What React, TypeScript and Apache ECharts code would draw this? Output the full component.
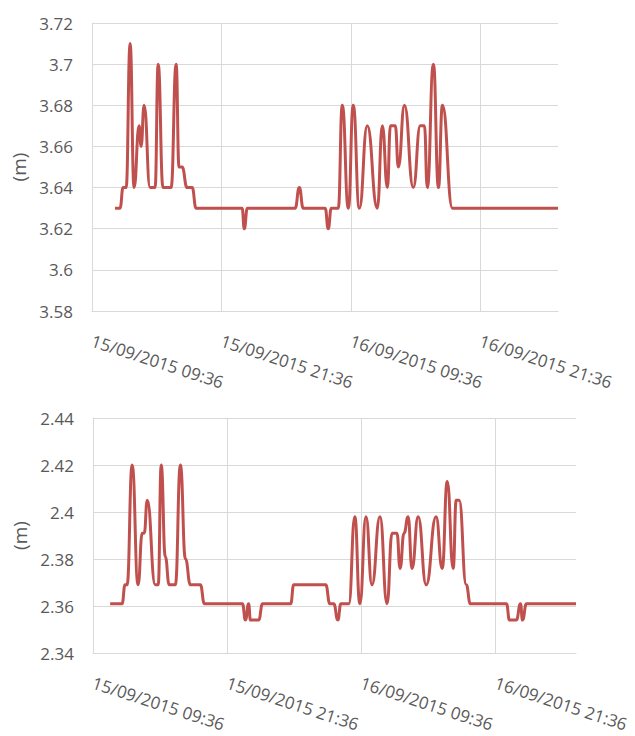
import React, { useEffect, useRef } from "react";
import * as echarts from "echarts";

// x axis: hours since 15/09/2015 09:36
const xTickLabels = ["15/09/2015 09:36", "15/09/2015 21:36", "16/09/2015 09:36", "16/09/2015 21:36"];
const X_MAX_HOURS = 43.2; // 17/09/2015 04:48

const topTimes = [
  "15/09 11:44", "15/09 12:12", "15/09 12:29", "15/09 12:46", "15/09 13:08", "15/09 13:30",
  "15/09 13:58", "15/09 14:09", "15/09 14:26", "15/09 14:59", "15/09 15:27", "15/09 15:44",
  "15/09 16:11", "15/09 16:56", "15/09 17:24", "15/09 17:40", "15/09 17:57", "15/09 18:25",
  "15/09 18:53", "15/09 19:15", "15/09 23:31", "15/09 23:43", "16/09 00:00", "16/09 04:26",
  "16/09 04:49", "16/09 05:11", "16/09 07:13", "16/09 07:30", "16/09 07:47", "16/09 08:26",
  "16/09 08:48", "16/09 09:22", "16/09 09:49", "16/09 10:23", "16/09 11:07", "16/09 12:03",
  "16/09 12:31", "16/09 12:59", "16/09 13:16", "16/09 13:43", "16/09 14:00", "16/09 14:34",
  "16/09 15:23", "16/09 16:02", "16/09 16:25", "16/09 16:41", "16/09 17:15", "16/09 17:43",
  "16/09 18:05", "16/09 19:01", "17/09 04:48",
];
const topLevels = [
  3.63, 3.63, 3.64, 3.64, 3.71, 3.64,
  3.67, 3.66, 3.68, 3.64, 3.64, 3.70,
  3.64, 3.64, 3.70, 3.65, 3.65, 3.64,
  3.64, 3.63, 3.63, 3.62, 3.63, 3.63,
  3.64, 3.63, 3.63, 3.62, 3.63, 3.63,
  3.68, 3.63, 3.68, 3.63, 3.67, 3.63,
  3.67, 3.64, 3.67, 3.67, 3.65, 3.68,
  3.64, 3.67, 3.67, 3.64, 3.70, 3.64,
  3.68, 3.63, 3.63,
];

const bottomTimes = [
  "15/09 11:08", "15/09 12:12", "15/09 12:28", "15/09 12:39", "15/09 13:06", "15/09 13:38",
  "15/09 14:00", "15/09 14:11", "15/09 14:27", "15/09 15:10", "15/09 15:26", "15/09 15:42",
  "15/09 16:04", "15/09 16:25", "15/09 16:58", "15/09 17:25", "15/09 17:52", "15/09 18:19",
  "15/09 19:12", "15/09 19:34", "15/09 22:58", "15/09 23:14", "15/09 23:31", "15/09 23:41",
  "16/09 00:25", "16/09 00:46", "16/09 03:17", "16/09 03:33", "16/09 06:25", "16/09 06:47",
  "16/09 07:08", "16/09 07:30", "16/09 07:46", "16/09 08:29", "16/09 09:01", "16/09 09:28",
  "16/09 10:01", "16/09 10:33", "16/09 11:16", "16/09 11:54", "16/09 12:21", "16/09 12:47",
  "16/09 13:04", "16/09 13:25", "16/09 13:47", "16/09 14:08", "16/09 14:41", "16/09 15:24",
  "16/09 16:17", "16/09 16:50", "16/09 17:17", "16/09 17:49", "16/09 18:05", "16/09 18:21",
  "16/09 18:59", "16/09 19:21", "16/09 22:35", "16/09 22:51", "16/09 23:28", "16/09 23:50",
  "17/09 00:01", "17/09 00:22", "17/09 04:48",
];
const bottomLevels = [
  2.361, 2.361, 2.369, 2.369, 2.42, 2.369,
  2.391, 2.391, 2.405, 2.369, 2.369, 2.42,
  2.381, 2.369, 2.369, 2.42, 2.38, 2.369,
  2.369, 2.361, 2.361, 2.354, 2.361, 2.354,
  2.354, 2.361, 2.361, 2.369, 2.369, 2.361,
  2.361, 2.354, 2.361, 2.361, 2.398, 2.361,
  2.398, 2.369, 2.398, 2.361, 2.391, 2.391,
  2.376, 2.391, 2.398, 2.376, 2.398, 2.369,
  2.398, 2.376, 2.413, 2.376, 2.405, 2.405,
  2.369, 2.361, 2.361, 2.354, 2.354, 2.361,
  2.354, 2.361, 2.361,
];

const toHours = (t: string) => {
  const [d, hm] = t.split(" ");
  const day = parseInt(d.split("/")[0], 10);
  const [hh, mm] = hm.split(":").map((s) => parseInt(s, 10));
  return (day - 15) * 24 + hh + mm / 60 - (9 + 36 / 60);
};

const FONT = "'Open Sans', 'Liberation Sans', sans-serif";
const LABEL_COLOR = "#595959";
const GRID_COLOR = "#d9d9d9";
const LINE_COLOR = "#c0504d";

export default function App() {
  const ref = useRef<HTMLDivElement>(null);
  useEffect(() => {
    if (!ref.current) return;
    const chart = echarts.init(ref.current, undefined, { renderer: "svg" });
    const makeX = (gridIndex: number) => ({
      type: "value",
      gridIndex,
      min: 0,
      max: X_MAX_HOURS,
      interval: 12,
      axisLine: { show: true, lineStyle: { color: GRID_COLOR, width: 1 } },
      axisTick: { show: false },
      splitLine: { show: true, showMaxLine: false, lineStyle: { color: GRID_COLOR, width: 1 } },
      axisLabel: {
        rotate: -18,
        margin: 29,
        color: LABEL_COLOR,
        fontFamily: FONT,
        fontSize: 17,
        showMaxLabel: false,
        formatter: (v: number) => {
          const i = Math.round(v / 12);
          return Math.abs(v - i * 12) < 1e-6 && xTickLabels[i] ? xTickLabels[i] : "";
        },
      },
    });
    const makeY = (gridIndex: number, min: number, max: number) => ({
      type: "value",
      gridIndex,
      min,
      max,
      interval: 0.02,
      name: "(m)",
      nameLocation: "middle",
      nameGap: 59,
      nameTextStyle: { color: LABEL_COLOR, fontFamily: FONT, fontSize: 19 },
      axisLine: { show: true, lineStyle: { color: GRID_COLOR, width: 1 } },
      axisTick: { show: false },
      splitLine: { show: true, lineStyle: { color: GRID_COLOR, width: 1 } },
      axisLabel: {
        margin: 19,
        color: LABEL_COLOR,
        fontFamily: FONT,
        fontSize: 17,
        formatter: (v: number) => String(+v.toFixed(2)),
      },
    });
    const lineSeries = (idx: number, times: string[], levels: number[]) => ({
      type: "line",
      xAxisIndex: idx,
      yAxisIndex: idx,
      data: times.map((t, i) => [toHours(t), levels[i]]),
      showSymbol: false,
      smooth: 0.5,
      smoothMonotone: "x",
      lineStyle: { color: LINE_COLOR, width: 3 },
      itemStyle: { color: LINE_COLOR },
    });
    chart.setOption({
      animation: false,
      backgroundColor: "#ffffff",
      grid: [
        { left: 92, top: 23, right: 77, bottom: 425 },
        { left: 93, top: 418, right: 59, bottom: 83 },
      ],
      xAxis: [makeX(0), makeX(1)],
      yAxis: [makeY(0, 3.58, 3.72), makeY(1, 2.34, 2.44)],
      series: [
        lineSeries(0, topTimes, topLevels),
        lineSeries(1, bottomTimes, bottomLevels),
      ],
    });
    return () => chart.dispose();
  }, []);
  return (
    <div
      ref={ref}
      style={{ position: "absolute", left: 0, top: 0, width: 635, height: 736, background: "#fff" }}
    />
  );
}
